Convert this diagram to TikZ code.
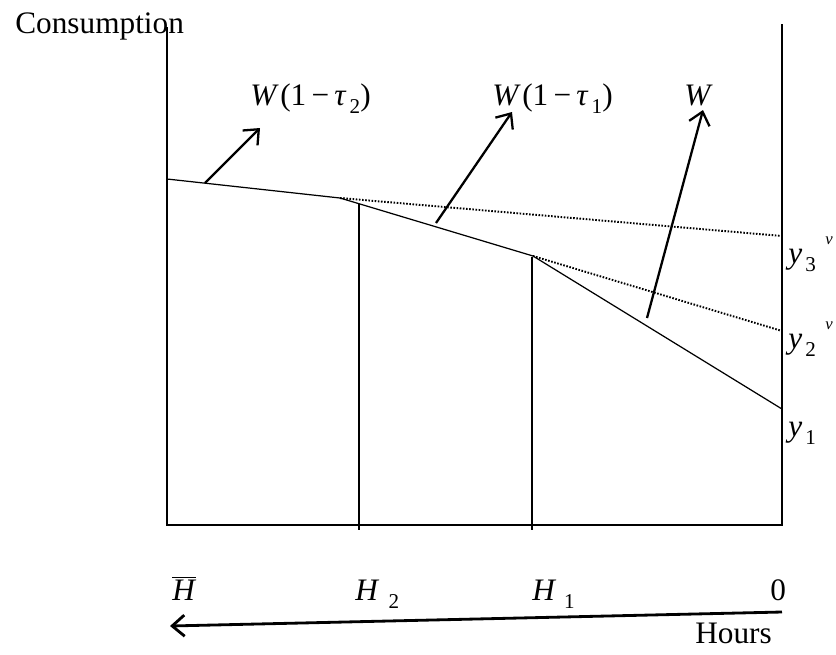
\documentclass[tikz,border=0pt]{standalone}
\usepackage{fontspec}
\setmainfont{Liberation Serif}
\usetikzlibrary{arrows.meta}
\newcommand{\lo}[2][0.1em]{\kern#1\raisebox{-0.28em}{\fontsize{12}{12}\selectfont #2}}
\newcommand{\hi}[2][0.3em]{\kern#1\raisebox{0.6em}{\fontsize{9.5}{10}\selectfont\itshape #2}}
\tikzset{
  axisline/.style = {line width=0.6pt},
  budget/.style   = {line width=0.7pt},
  virtual/.style  = {line width=1.1pt, dash pattern=on 0.9pt off 0.9pt},
  grad/.style     = {-{Straight Barb[length=7pt,width=12pt]}, line width=1.3pt},
  lbl/.style      = {font=\fontsize{17.8}{20}\selectfont, inner sep=0pt, anchor=base west},
}
\begin{document}
\begin{tikzpicture}[x=0.02cm,y=-0.02cm]
\useasboundingbox (0,0) rectangle (836,654);
% axes
\coordinate (ytop) at (167,27);
\coordinate (orig) at (167,525);
\coordinate (zero) at (782,525);
\coordinate (rtop) at (782,24);
\draw[axisline] (ytop) -- (orig) -- (zero) -- (rtop);
% budget constraint
\coordinate (A)  at (167,179);
\coordinate (K2) at (340,198);
\coordinate (K1) at (533,256);
\coordinate (Y1) at (782,409);
\coordinate (Y2) at (782,331);
\coordinate (Y3) at (782,236);
\draw[budget] (A) -- (K2) -- (K1) -- (Y1);
\draw[virtual] (K2) -- (Y3);
\draw[virtual] (K1) -- (Y2);
% hour thresholds
\coordinate (h2top) at (359,204);
\coordinate (h2bot) at (359,530);
\coordinate (h1top) at (532,257);
\coordinate (h1bot) at (532,530);
\draw[axisline] (h2top) -- (h2bot);
\draw[axisline] (h1top) -- (h1bot);
% wage arrows
\coordinate (t2tail) at (205,183);
\coordinate (t2head) at (260,128);
\coordinate (t1tail) at (436,223);
\coordinate (t1head) at (512,112);
\coordinate (wtail)  at (647,318);
\coordinate (whead)  at (703,110);
\draw[grad] (t2tail) -- (t2head);
\draw[grad] (t1tail) -- (t1head);
\draw[grad] (wtail) -- (whead);
% hours arrow
\coordinate (hstart) at (782,612);
\coordinate (hend)   at (170,626);
\draw[grad, line width=1.6pt] (hstart) -- (hend);
% labels
\node[lbl] (cons)   at (15,33)   {Consumption};
\node[lbl] (lt2)    at (250,105) {\textit{W}\kern0.05em(1\,−\,\textit{τ}\lo{2})};
\node[lbl] (lt1)    at (492,105) {\textit{W}\kern0.05em(1\,−\,\textit{τ}\lo{1})};
\node[lbl] (lw)     at (684,105) {\textit{W}};
\node[lbl] (ly3)    at (788,263) {\textit{y}\lo{3}\hi{v}};
\node[lbl] (ly2)    at (788,348) {\textit{y}\lo{2}\hi{v}};
\node[lbl] (ly1)    at (788,436) {\textit{y}\lo{1}};
\node[lbl] (lhbar)  at (172,600) {$\overline{\mbox{\textit{H}}}$};
\node[lbl] (lh2)    at (355,600) {\textit{H}\lo[0.3em]{2}};
\node[lbl] (lh1)    at (532,600) {\textit{H}\lo[0.25em]{1}};
\node[lbl] (lzero)  at (770,600) {0};
\node[lbl] (lhours) at (695,643) {Hours};
\end{tikzpicture}
\end{document}
